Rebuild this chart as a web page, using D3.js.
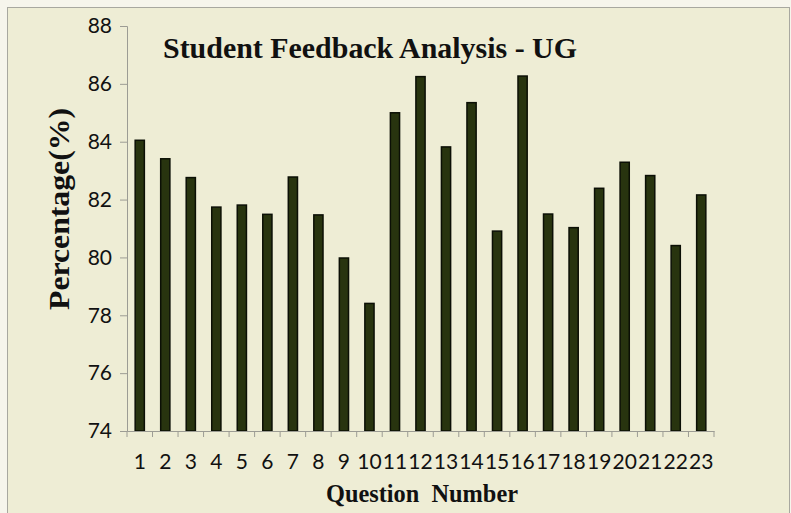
<!DOCTYPE html>
<html>
<head>
<meta charset="utf-8">
<script src="https://cdn.jsdelivr.net/npm/d3@7"></script>
<style>
  html, body { margin: 0; padding: 0; background: #f6f5ec; }
</style>
</head>
<body>
<svg id="chart"></svg>
<script>
const questions = d3.range(1, 24).map(String);
const percentages = [
  84.05, 83.41, 82.76, 81.74, 81.81, 81.49, 82.78, 81.47, 79.98, 78.41,
  85.0, 86.25, 83.82, 85.35, 80.91, 86.27, 81.5, 81.03, 82.39, 83.29,
  82.83, 80.41, 82.16
];
const yTicks = [74, 76, 78, 80, 82, 84, 86, 88];

const width = 791;
const height = 513;
const margin = { top: 26, right: 77, bottom: 82, left: 127 };

const svg = d3.select("#chart")
  .attr("width", width)
  .attr("height", height);

// chart area background + border
svg.append("rect")
  .attr("x", 7.5).attr("y", 7.5)
  .attr("width", width - 9).attr("height", height)
  .attr("fill", "#eeedd5")
  .attr("stroke", "#a8a8a0");

const x = d3.scaleBand()
  .domain(questions)
  .range([margin.left, width - margin.right])
  .paddingInner(0.64)
  .paddingOuter(0.32);

const y = d3.scaleLinear()
  .domain([74, 88])
  .range([height - margin.bottom, margin.top]);

// bars
svg.append("g")
  .selectAll("rect")
  .data(percentages)
  .join("rect")
  .attr("x", (d, i) => x(questions[i]))
  .attr("y", d => y(d))
  .attr("width", x.bandwidth())
  .attr("height", d => y(74) - y(d))
  .attr("fill", "#28340f")
  .attr("stroke", "#0b0f05")
  .attr("stroke-width", 1.5);

// y axis
const yAxis = svg.append("g")
  .attr("transform", `translate(${margin.left},0)`)
  .call(d3.axisLeft(y).tickValues(yTicks).tickSize(7).tickPadding(8));
yAxis.selectAll("path, line").attr("stroke", "#9c9c94");
yAxis.selectAll("text")
  .attr("font-family", "Lato, 'Open Sans', sans-serif")
  .attr("font-size", 21)
  .attr("fill", "#111");

// x axis: Excel-style ticks on category boundaries
const xAxis = svg.append("g")
  .attr("transform", `translate(0,${y(74)})`)
  .call(d3.axisBottom(x).tickSize(0).tickPadding(23));
xAxis.select(".domain").attr("stroke", "#9c9c94");
xAxis.selectAll("text")
  .attr("font-family", "Lato, 'Open Sans', sans-serif")
  .attr("font-size", 21)
  .attr("fill", "#111");

const step = x.step();
const bounds = d3.range(questions.length + 1).map(i => margin.left + i * step);
xAxis.append("g")
  .selectAll("line")
  .data(bounds)
  .join("line")
  .attr("x1", d => d).attr("x2", d => d)
  .attr("y1", 0).attr("y2", 6)
  .attr("stroke", "#9c9c94");

// title
svg.append("text")
  .attr("x", 163).attr("y", 58)
  .attr("font-family", "'Liberation Serif', 'Times New Roman', serif")
  .attr("font-weight", "bold")
  .attr("font-size", 29)
  .attr("textLength", 414)
  .attr("lengthAdjust", "spacingAndGlyphs")
  .attr("fill", "#111")
  .text("Student Feedback Analysis - UG");

// y title
svg.append("text")
  .attr("transform", "translate(69,209) rotate(-90)")
  .attr("text-anchor", "middle")
  .attr("font-family", "'Liberation Serif', 'Times New Roman', serif")
  .attr("font-weight", "bold")
  .attr("font-size", 29)
  .attr("textLength", 202)
  .attr("lengthAdjust", "spacingAndGlyphs")
  .attr("fill", "#111")
  .text("Percentage(%)");

// x title
svg.append("text")
  .attr("x", 326).attr("y", 502)
  .attr("font-family", "'Liberation Serif', 'Times New Roman', serif")
  .attr("font-weight", "bold")
  .attr("font-size", 26)
  .attr("textLength", 192)
  .attr("lengthAdjust", "spacingAndGlyphs")
  .attr("fill", "#111")
  .attr("xml:space", "preserve")
  .text("Question  Number");
</script>
</body>
</html>
